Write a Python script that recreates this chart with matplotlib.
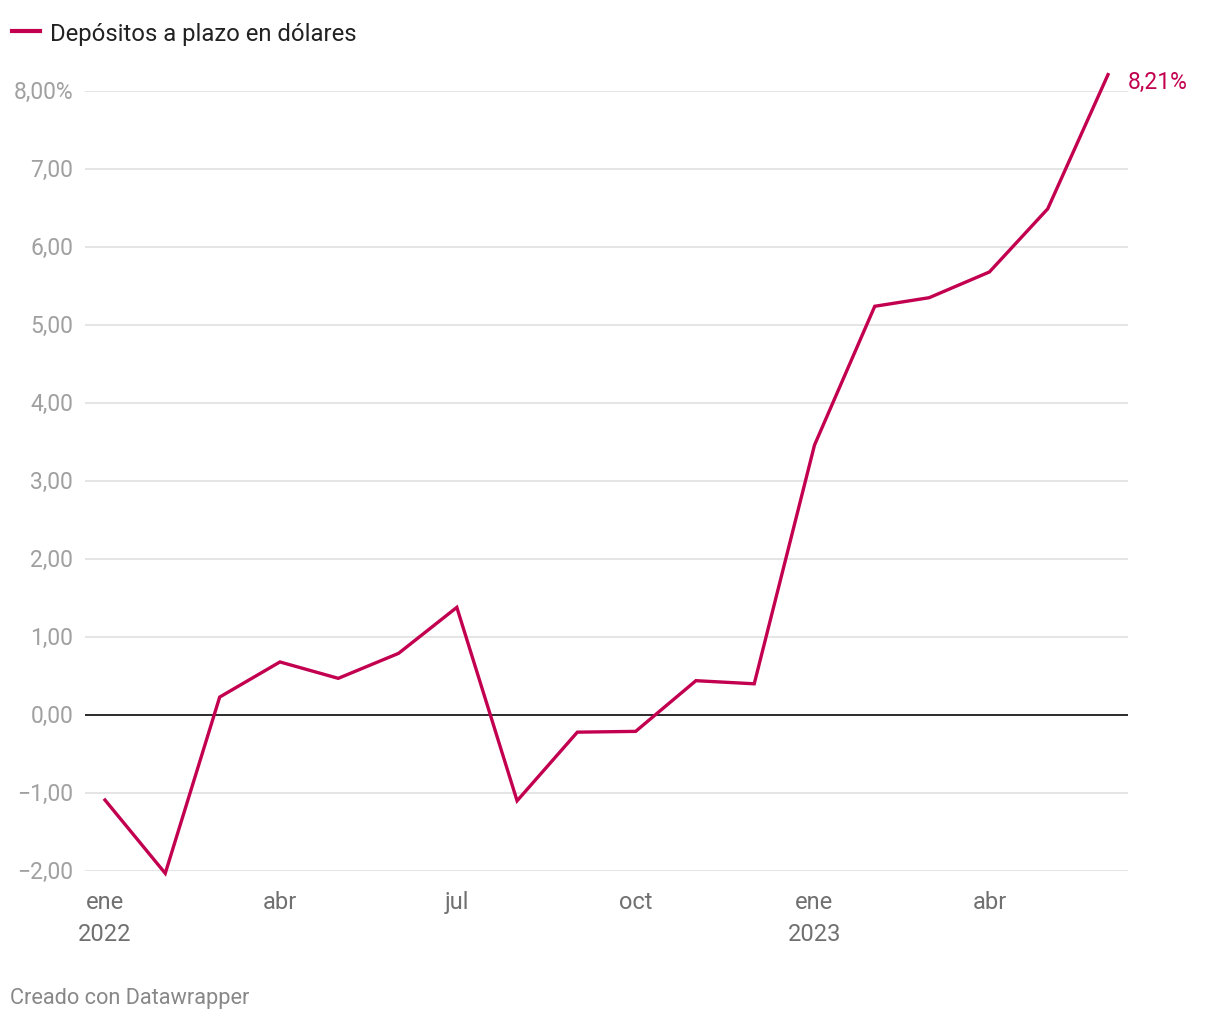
import matplotlib
matplotlib.use("Agg")
import matplotlib.pyplot as plt
import matplotlib.dates as mdates
import pandas as pd
from matplotlib.transforms import blended_transform_factory

plt.rcParams['font.family'] = ['Roboto', 'DejaVu Sans']

# Datos mensuales ene 2022 - jun 2023
fechas = pd.date_range('2022-01-01', '2023-06-01', freq='MS')
valores = [-1.09, -2.03, 0.23, 0.68, 0.47, 0.79, 1.38, -1.10, -0.22, -0.21,
           0.44, 0.40, 3.46, 5.24, 5.35, 5.68, 6.49, 8.21]
tick_fechas = pd.to_datetime(['2022-01-01', '2022-04-01', '2022-07-01',
                              '2022-10-01', '2023-01-01', '2023-04-01'])
tick_labels = ['ene\n2022', 'abr', 'jul', 'oct', 'ene\n2023', 'abr']
y_ticks = [-2, -1, 0, 1, 2, 3, 4, 5, 6, 7, 8]
serie = 'Depósitos a plazo en dólares'

color = '#c2004f'
W, H = 1220, 1020
fig = plt.figure(figsize=(W / 100, H / 100), dpi=100)
ax = fig.add_axes([85 / W, 1 - 872 / H, (1128 - 85) / W, (872 - 92) / H])

ax.set_ylim(-2, 8)
# 105 px -> 1 ene 2022, 1108 px -> 1 jun 2023
d0 = mdates.date2num(fechas[0])
d1 = mdates.date2num(fechas[-1])
ppd = (1108 - 105) / (d1 - d0)
ax.set_xlim(d0 - 20 / ppd, d1 + 20 / ppd)

trans = blended_transform_factory(fig.transFigure, ax.transData)
for y in y_ticks:
    if y == 0:
        ax.axhline(0, color='#1a1a1a', lw=1.3, zorder=2)
    else:
        ax.axhline(y, color='#e3e3e3', lw=1.3, zorder=1)
    lab = f'{y:,.2f}'.replace('.', ',').replace('-', '\u2212')
    if y == 8:
        lab += '%'
    ax.text(73 / W, y, lab, transform=trans, clip_on=False,
            ha='right', va='center', fontsize=16.5, color='#a0a0a0')

ax.plot(fechas, valores, color=color, lw=2.4, clip_on=False, zorder=3,
        solid_joinstyle='miter')
ax.annotate(f'{valores[-1]:.2f}%'.replace('.', ','), (fechas[-1], valores[-1]),
            xytext=(14, -5), textcoords='offset points', ha='left', va='center',
            fontsize=16.5, color=color, annotation_clip=False)

ax.set_yticks([])
ax.set_xticks(tick_fechas)
ax.set_xticklabels(tick_labels, fontsize=17, color='#707070', linespacing=1.45)
ax.tick_params(axis='x', length=0, pad=14)
for s in ax.spines.values():
    s.set_visible(False)

# leyenda
fig.lines.append(plt.Line2D([12 / W, 40 / W], [1 - 32 / H, 1 - 32 / H],
                            transform=fig.transFigure, color=color, lw=3))
fig.text(50 / W, 1 - 34 / H, serie, fontsize=17.2, color='#222222',
         ha='left', va='center')

fig.text(10 / W, 1 - 999 / H, 'Creado con Datawrapper', fontsize=15.7,
         color='#888888', ha='left', va='center')

fig.savefig('out.png', dpi=100, facecolor='white')
